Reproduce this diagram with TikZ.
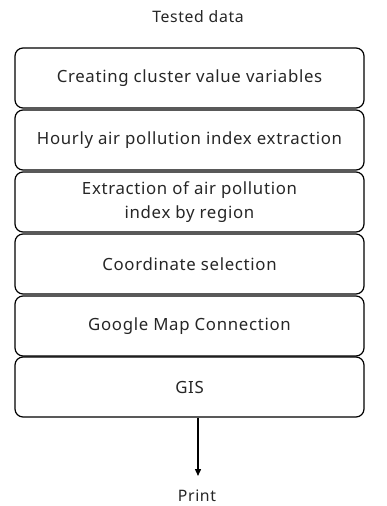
\documentclass[tikz,border=0pt]{standalone}
\usepackage{fontspec}
\setmainfont{Noto Sans}[LetterSpace=4]
\usetikzlibrary{arrows.meta}
\begin{document}
\begin{tikzpicture}[x=1pt,y=-1pt,
  stagebox/.style={draw, line width=1.2pt, rounded corners=8pt, minimum width=349pt,
    minimum height=60pt, align=center, inner sep=0pt, text=black!85,
    font=\fontsize{16.8}{24}\selectfont},
  plainlabel/.style={font=\fontsize{15.8}{20}\selectfont, inner sep=0pt, text=black!85},
  flow/.style={line width=1.4pt, -{Triangle[length=7pt,width=6pt]}}]
\useasboundingbox (0,0) rectangle (387,506);
\node[plainlabel] (input) at (198,17) {Tested data};
\node[stagebox] (s1) at (189.5,78) {Creating cluster value variables};
\node[stagebox] (s2) at (189.5,140) {Hourly air pollution index extraction};
\node[stagebox] (s3) at (189.5,202) {Extraction of air pollution\\index by region};
\node[stagebox] (s4) at (189.5,264) {Coordinate selection};
\node[stagebox] (s5) at (189.5,326) {Google Map Connection};
\node[stagebox] (s6) at (189.5,387) {GIS};
\node[plainlabel] (output) at (197,496) {Print};
\coordinate (tip) at (198,476);
\draw[flow] (s6.south -| tip) -- (tip);
\end{tikzpicture}
\end{document}
